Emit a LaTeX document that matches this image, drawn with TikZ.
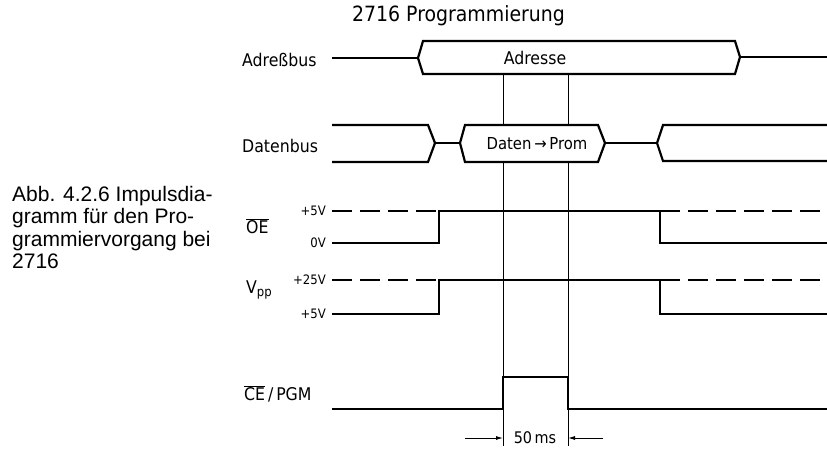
\documentclass[tikz,border=0pt]{standalone}
\usepackage{fontspec}
\setmainfont{Liberation Sans}
\newfontfamily\dinfont{DejaVu Sans Condensed}
\usetikzlibrary{positioning, arrows.meta, calc}

\begin{document}
\begin{tikzpicture}[x=1pt, y=-1pt,
      sig/.style={line width=2.2pt, line join=miter},
      lvl/.style={line width=1.1pt, dash pattern=on 20pt off 8pt},
      guide/.style={line width=0.8pt},
      dimarrow/.style={-{Latex[length=7pt, width=4pt]}, line width=0.9pt},
      lbl/.style={font=\dinfont\fontsize{#1}{#1}\selectfont, inner sep=0pt},
      lbl/.default=17.5,
      vlbl/.style={font=\dinfont\fontsize{13}{15}\selectfont, inner sep=0pt},
      captext/.style={font=\fontsize{21}{22.5}\selectfont, align=left, anchor=north west, inner sep=0pt}
    ]
      \useasboundingbox (0,0) rectangle (827,448);

      % timing instants
      \coordinate (oeL) at (332,243);
      \coordinate (oeH) at (332,211);
      \coordinate (vpL) at (332,314);
      \coordinate (vpH) at (332,280);
      \coordinate (ceL) at (332,409);
      \coordinate (wL) at (503,438);
      \coordinate (wR) at (568,438);

      \node [lbl=21, anchor=west] (title) at (352,16) {2716 Programmierung};
      \node [lbl, anchor=west] (adrlbl) at (242,60) {Adreßbus};
      \node [lbl, anchor=west] (datlbl) at (242,146) {Datenbus};
      \node [lbl, anchor=west] (oelbl) at (246,226) {$\overline{\mbox{OE}}$};
      \node [lbl, anchor=west] (vpplbl) at (246,290) {V$_{\mbox{\fontsize{13}{13}\selectfont pp}}$};
      \node [lbl, anchor=west] (celbl) at (244,394) {$\overline{\mbox{CE}}$\,/\,PGM};
      \node [vlbl, left=6pt of oeH] (v5a) {+5V};
      \node [vlbl, left=6pt of oeL] (v0) {0V};
      \node [vlbl, left=6pt of vpH] (v25) {+25V};
      \node [vlbl, left=6pt of vpL] (v5b) {+5V};
      \node [captext] (caption) at (12,186) {Abb. 4.2.6 Impulsdia-\\gramm für den Pro-\\grammiervorgang bei\\2716};

      \draw [guide] (503,74) -- (503,446);
      \draw [guide] (568,74) -- (568,446);

      % address bus
      \draw [sig] (332,58) -- (418,58);
      \draw [sig, fill=white] (418,58) -- (423,41) -- (735,41) -- (740,57) -- (735,74) -- (423,74) -- cycle;
      \draw [sig] (740,57) -- (827,57);
      \node [lbl] (adresse) at (535,58) {Adresse};

      % data bus
      \draw [sig] (332,125) -- (428,125) -- (435,143) -- (428,162) -- (332,162);
      \draw [sig] (435,143) -- (460,143);
      \draw [sig, fill=white] (460,143) -- (465,125) -- (598,125) -- (605,143) -- (598,162) -- (465,162) -- cycle;
      \draw [sig] (605,143) -- (657,143);
      \draw [sig] (827,125) -- (663,125) -- (657,143) -- (663,161) -- (827,161);
      \node [lbl=16.5] (datprom) at (537,144) {Daten\,→\,Prom};

      % OE
      \draw [lvl] (oeH) -- (439,211);
      \draw [lvl] (660,211) -- (827,211);
      \draw [sig] (oeL) -- (439,243) -- (439,211) -- (660,211) -- (660,243) -- (827,243);

      % Vpp
      \draw [lvl] (vpH) -- (439,280);
      \draw [lvl] (660,280) -- (827,280);
      \draw [sig] (vpL) -- (439,314) -- (439,280) -- (660,280) -- (660,314) -- (827,314);

      % CE/PGM
      \draw [sig] (ceL) -- (503,409) -- (503,377) -- (568,377) -- (568,409) -- (827,409);

      \draw [dimarrow] (465,438) -- (wL);
      \draw [dimarrow] (603,438) -- (wR);
      \node [lbl=16] (width) at (535,438) {50\,ms};
    \end{tikzpicture}
\end{document}
